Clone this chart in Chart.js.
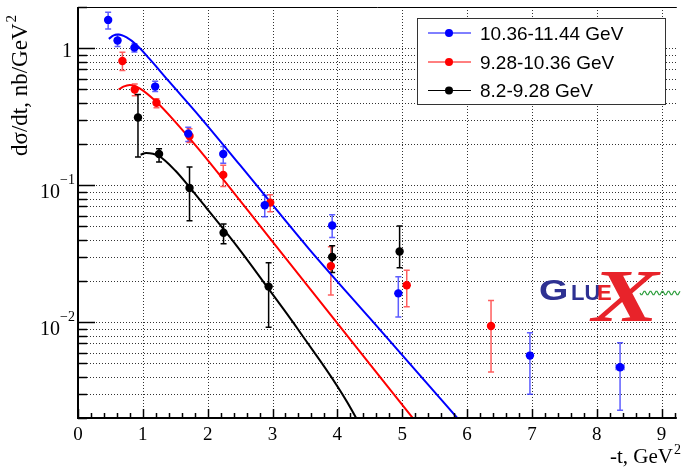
<!DOCTYPE html>
<html>
<head>
<meta charset="utf-8">
<script src="https://cdn.jsdelivr.net/npm/chart.js@4/dist/chart.umd.min.js"></script>
<style>
body { margin: 0; background: #fff; }
#wrap { width: 681px; height: 472px; }
</style>
</head>
<body>
<div id="wrap"><canvas id="chart" width="681" height="472"></canvas></div>
<script>
// Data (-t in GeV^2, dsigma/dt in nb/GeV^2)
const seriesLabels = ['10.36-11.44 GeV', '9.28-10.36 GeV', '8.2-9.28 GeV'];
const seriesColors = ['#0000ff', '#ff0000', '#000000'];
const errColors = ['rgba(40,40,255,0.75)', 'rgba(255,40,40,0.75)', '#000000'];

const blueT  = [0.465, 0.61, 0.87, 1.19, 1.70, 2.24, 2.88, 3.92, 4.94, 6.97, 8.36];
const blueY  = [1.61, 1.14, 1.01, 0.525, 0.238, 0.169, 0.0714, 0.0508, 0.01625, 0.00571, 0.00469];
const blueHi = [1.83, 1.26, 1.08, 0.575, 0.265, 0.192, 0.0845, 0.061, 0.0215, 0.00838, 0.00707];
const blueLo = [1.38, 1.03, 0.94, 0.483, 0.209, 0.145, 0.059, 0.0416, 0.0109, 0.00298, 0.00228];
const blueTErr = [0, 0, 0, 0, 0, 0, 0, 0, 0, 0, 0.06];

const redT  = [0.685, 0.875, 1.21, 1.72, 2.24, 2.965, 3.90, 5.07, 6.37];
const redY  = [0.808, 0.50, 0.40, 0.229, 0.119, 0.0747, 0.0257, 0.0186, 0.00938];
const redHi = [0.935, 0.549, 0.427, 0.258, 0.14, 0.0854, 0.0356, 0.024, 0.0144];
const redLo = [0.687, 0.45, 0.368, 0.205, 0.098, 0.064, 0.0158, 0.013, 0.00434];

const blackT  = [0.925, 1.25, 1.72, 2.245, 2.94, 3.92, 4.96];
const blackY  = [0.312, 0.169, 0.0955, 0.045, 0.0182, 0.0299, 0.0328];
const blackHi = [0.459, 0.185, 0.136, 0.0522, 0.0272, 0.0362, 0.0505];
const blackLo = [0.161, 0.148, 0.055, 0.0374, 0.0092, 0.0231, 0.025];

// fitted curves
const blueCurveT = [0.475, 0.55, 0.62, 0.75, 0.9, 1.1, 1.4, 1.87, 2.5, 3.558, 4.5, 5.9];
const blueCurveY = [1.17, 1.24, 1.26, 1.2, 1.06, 0.84, 0.575, 0.32, 0.14, 0.0345, 0.0107, 0.00188];
const redCurveT = [0.628, 0.7, 0.8, 0.95, 1.2, 1.5, 1.868, 3.0, 5.2];
const redCurveY = [0.50, 0.525, 0.54, 0.51, 0.41, 0.29, 0.182, 0.0387, 0.0019];
const blackCurveT = [0.965, 1.05, 1.25, 1.5, 1.726, 1.97, 2.48, 2.94, 3.4, 4.277, 4.33];
const blackCurveY = [0.167, 0.172, 0.163, 0.128, 0.096, 0.0692, 0.0345, 0.0175, 0.00877, 0.00205, 0.0018];

// axis ticks
const xTickLabels = ['0', '1', '2', '3', '4', '5', '6', '7', '8', '9'];
const yDecades = [1, 0.1, 0.01];
const yDecadeLabels = [['1', ''], ['10', '\u22121'], ['10', '\u22122']];

function pts(xs, ys) {
    return xs.map((x, i) => ({ x: x, y: ys[i] }));
}

const errData = [
    { t: blueT, y: blueY, hi: blueHi, lo: blueLo, terr: blueTErr },
    { t: redT, y: redY, hi: redHi, lo: redLo, terr: null },
    { t: blackT, y: blackY, hi: blackHi, lo: blackLo, terr: null }
];

// y grid values: 1..9 x each decade
const yGrid = [];
for (let e = -3; e <= 0; e++) {
    for (let m = 1; m <= 9; m++) {
        const v = m * Math.pow(10, e);
        if (v >= 0.002 && v <= 2) yGrid.push(v);
    }
}

const SERIF = '"Liberation Serif", "DejaVu Serif", serif';
const SANS = '"Liberation Sans", Arial, sans-serif';

const framePlugin = {
    id: 'frame',
    beforeDatasetsDraw(chart) {
        const ctx = chart.ctx;
        const a = chart.chartArea;
        const xs = chart.scales.x, ys = chart.scales.y;
        ctx.save();
        ctx.strokeStyle = 'rgba(0,0,0,0.8)';
        ctx.lineWidth = 1;
        ctx.setLineDash([1, 2]);
        yGrid.forEach(v => {
            const y = Math.round(ys.getPixelForValue(v)) + 0.5;
            ctx.beginPath(); ctx.moveTo(a.left, y); ctx.lineTo(a.right, y); ctx.stroke();
        });
        for (let i = 1; i < xTickLabels.length; i++) {
            const x = Math.round(xs.getPixelForValue(i)) + 0.5;
            ctx.beginPath(); ctx.moveTo(x, a.top); ctx.lineTo(x, a.bottom); ctx.stroke();
        }
        ctx.setLineDash([]);
        // error bars
        errData.forEach((s, k) => {
            ctx.strokeStyle = errColors[k];
            ctx.lineWidth = 1.5;
            s.t.forEach((t, i) => {
                const x = xs.getPixelForValue(t);
                const yh = ys.getPixelForValue(s.hi[i]);
                const yl = ys.getPixelForValue(s.lo[i]);
                ctx.beginPath();
                ctx.moveTo(x, yh); ctx.lineTo(x, yl);
                ctx.moveTo(x - 3, yh); ctx.lineTo(x + 3, yh);
                ctx.moveTo(x - 3, yl); ctx.lineTo(x + 3, yl);
                if (s.terr && s.terr[i] > 0) {
                    const x1 = xs.getPixelForValue(t - s.terr[i]);
                    const x2 = xs.getPixelForValue(t + s.terr[i]);
                    const y = ys.getPixelForValue(s.y[i]);
                    ctx.moveTo(x1, y); ctx.lineTo(x2, y);
                    ctx.moveTo(x1, y - 3); ctx.lineTo(x1, y + 3);
                    ctx.moveTo(x2, y - 3); ctx.lineTo(x2, y + 3);
                }
                ctx.stroke();
            });
        });
        ctx.restore();
    },
    afterDraw(chart) {
        const ctx = chart.ctx;
        const a = chart.chartArea;
        const xs = chart.scales.x, ys = chart.scales.y;
        ctx.save();
        ctx.strokeStyle = '#000';
        // axes
        ctx.lineWidth = 2;
        ctx.beginPath();
        ctx.moveTo(a.left, a.top); ctx.lineTo(a.left, a.bottom); ctx.lineTo(a.right, a.bottom);
        ctx.stroke();
        ctx.lineWidth = 1;
        ctx.beginPath(); ctx.moveTo(a.left, a.top + 0.5); ctx.lineTo(a.right, a.top + 0.5); ctx.stroke();
        // y ticks (inside)
        ctx.lineWidth = 1.5;
        yGrid.forEach(v => {
            const y = Math.round(ys.getPixelForValue(v)) + 0.5;
            const len = yDecades.includes(v) ? 17 : 9;
            ctx.beginPath(); ctx.moveTo(a.left, y); ctx.lineTo(a.left + len, y); ctx.stroke();
        });
        // x ticks (inside)
        for (let k = 0; k * 0.2 <= xs.max; k++) {
            const x = Math.round(xs.getPixelForValue(k * 0.2)) + 0.5;
            const len = k % 5 === 0 ? 9 : 5;
            ctx.beginPath(); ctx.moveTo(x, a.bottom); ctx.lineTo(x, a.bottom - len); ctx.stroke();
        }
        // x tick labels
        ctx.fillStyle = '#000';
        ctx.font = '19px ' + SERIF;
        ctx.textAlign = 'center';
        ctx.textBaseline = 'alphabetic';
        xTickLabels.forEach((lab, i) => {
            ctx.fillText(lab, xs.getPixelForValue(i), a.bottom + 22);
        });
        // y tick labels
        yDecades.forEach((v, i) => {
            const y = ys.getPixelForValue(v);
            const [base, sup] = yDecadeLabels[i];
            if (!sup) {
                ctx.font = '20px ' + SERIF;
                ctx.textAlign = 'right';
                ctx.fillText(base, 72, y + 9);
            } else {
                ctx.font = '14px ' + SERIF;
                ctx.textAlign = 'right';
                ctx.fillText(sup, 75, y - 1);
                const sw = ctx.measureText(sup).width;
                ctx.font = '20px ' + SERIF;
                ctx.fillText(base, 75 - sw, y + 13);
            }
        });
        // axis titles
        ctx.font = '21px ' + SERIF;
        ctx.textAlign = 'right';
        ctx.fillText('-t, GeV', 673, 463);
        ctx.font = '14px ' + SERIF;
        ctx.textAlign = 'left';
        ctx.fillText('2', 674, 454);

        ctx.save();
        ctx.translate(27, 156);
        ctx.rotate(-Math.PI / 2);
        ctx.font = '23px ' + SERIF;
        ctx.textAlign = 'left';
        const yt = 'd\u03c3/dt, nb/GeV';
        ctx.fillText(yt, 0, 0);
        const w = ctx.measureText(yt).width;
        ctx.font = '15px ' + SERIF;
        ctx.fillText('2', w + 1, -11);
        ctx.restore();

        // legend
        ctx.fillStyle = '#fff';
        ctx.fillRect(417, 18, 249, 87);
        ctx.strokeStyle = '#333';
        ctx.lineWidth = 1;
        ctx.strokeRect(417.5, 18.5, 248, 86);
        const rowsY = [32.5, 61.5, 90];
        seriesLabels.forEach((lab, i) => {
            const y = rowsY[i];
            ctx.strokeStyle = seriesColors[i];
            ctx.lineWidth = 1;
            ctx.beginPath(); ctx.moveTo(428, y + 0.5); ctx.lineTo(471, y + 0.5); ctx.stroke();
            ctx.fillStyle = seriesColors[i];
            ctx.beginPath(); ctx.arc(449, y + 0.5, 4, 0, Math.PI * 2); ctx.fill();
            ctx.fillStyle = '#000';
            ctx.font = '19px ' + SANS;
            ctx.textAlign = 'left';
            ctx.fillText(lab, 480, y + 7);
        });

        // GlueX logo
        ctx.textAlign = 'left';
        ctx.fillStyle = '#2e3192';
        ctx.save();
        ctx.translate(539, 300);
        ctx.scale(1.3, 1);
        ctx.font = 'bold 29px ' + SANS;
        ctx.fillText('G', 0, 0);
        ctx.restore();
        ctx.font = 'bold 22px ' + SANS;
        ctx.fillText('LU', 571, 300);
        ctx.fillStyle = '#e8232a';
        ctx.fillText('E', 597, 300);
        ctx.save();
        ctx.translate(592, 321);
        ctx.scale(1.35, 1);
        ctx.font = 'italic bold 74px ' + SERIF;
        ctx.fillText('X', 0, 0);
        ctx.restore();
        ctx.strokeStyle = '#2a9d3a';
        ctx.lineWidth = 1.2;
        ctx.beginPath();
        for (let x = 640; x <= 680; x++) {
            const y = 293 + 2 * Math.sin((x - 640) / 6 * 2 * Math.PI);
            if (x === 640) ctx.moveTo(x, y); else ctx.lineTo(x, y);
        }
        ctx.stroke();
        ctx.restore();
    }
};

const pointSet = (data, i) => ({
    type: 'scatter', data: data, showLine: false,
    pointRadius: 4.2, pointHoverRadius: 4.2, pointBorderWidth: 0,
    backgroundColor: seriesColors[i], borderColor: seriesColors[i]
});
const curveSet = (data, i) => ({
    type: 'line', data: data, showLine: true, pointRadius: 0,
    borderColor: seriesColors[i], borderWidth: 2, fill: false,
    cubicInterpolationMode: 'monotone'
});

new Chart(document.getElementById('chart'), {
    type: 'scatter',
    data: {
        datasets: [
            pointSet(pts(blueT, blueY), 0),
            pointSet(pts(redT, redY), 1),
            pointSet(pts(blackT, blackY), 2),
            curveSet(pts(blueCurveT, blueCurveY), 0),
            curveSet(pts(redCurveT, redCurveY), 1),
            curveSet(pts(blackCurveT, blackCurveY), 2)
        ]
    },
    options: {
        responsive: false,
        animation: false,
        devicePixelRatio: 1,
        layout: { padding: { top: 7, right: 0, bottom: 0, left: 0 } },
        plugins: { legend: { display: false }, tooltip: { enabled: false } },
        scales: {
            x: {
                type: 'linear', min: 0, max: 9.235,
                grid: { display: false }, border: { display: false },
                ticks: { display: false },
                afterFit: s => { s.height = 54; }
            },
            y: {
                type: 'logarithmic', min: 0.002, max: 2,
                grid: { display: false }, border: { display: false },
                ticks: { display: false },
                afterFit: s => { s.width = 78; }
            }
        }
    },
    plugins: [framePlugin]
});
</script>
</body>
</html>
